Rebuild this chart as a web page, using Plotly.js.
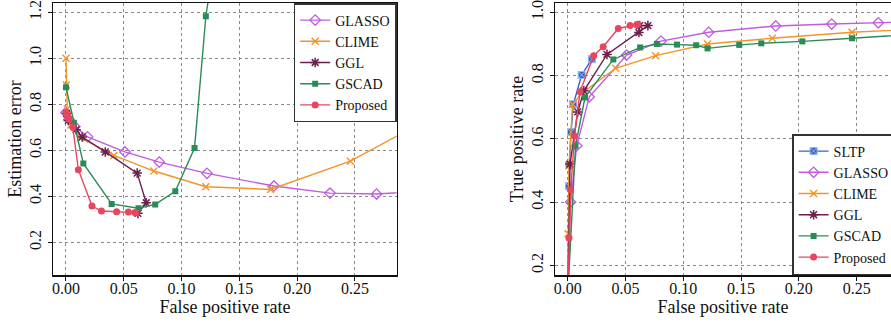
<!DOCTYPE html>
<html>
<head>
<meta charset="utf-8">
<script src="https://cdn.plot.ly/plotly-3.0.1.min.js"></script>
<style>html,body{margin:0;padding:0;background:#fff}#chart{width:891px;height:323px}</style>
</head>
<body>
<div id="chart"></div>
<script>
// ---- data ----
const methods = ["SLTP", "GLASSO", "CLIME", "GGL", "GSCAD", "Proposed"];

const sltpFpr = [0.0, 0.0012, 0.0015, 0.0029, 0.0049, 0.0121, 0.0209];
const sltpTpr = [0.10, 0.45, 0.518, 0.621, 0.709, 0.802, 0.852];

const glassoFpr = [0.0, 0.0025, 0.0078, 0.0187, 0.051, 0.0807, 0.122, 0.180, 0.2284, 0.2687, 0.315];
const glassoTpr = [0.12, 0.40, 0.578, 0.733, 0.865, 0.909, 0.937, 0.957, 0.963, 0.967, 0.972];
const glassoErr = [0.765, 0.735, 0.703, 0.659, 0.593, 0.549, 0.500, 0.445, 0.414, 0.410, 0.425];

const climeFpr = [0.0, 0.0003, 0.0011, 0.0042, 0.0125, 0.0415, 0.0761, 0.121, 0.177, 0.246, 0.32];
const climeTpr = [0.05, 0.30, 0.515, 0.709, 0.745, 0.823, 0.863, 0.900, 0.918, 0.937, 0.950];
const climeErr = [1.0, 0.884, 0.78, 0.71, 0.655, 0.578, 0.510, 0.442, 0.430, 0.553, 0.753];

const gglFpr = [0.0005, 0.002, 0.0087, 0.014, 0.034, 0.0616, 0.0694, 0.0622];
const gglTpr = [0.15, 0.52, 0.685, 0.752, 0.867, 0.936, 0.958, 0.958];
const gglErr = [0.76, 0.73, 0.69, 0.658, 0.593, 0.501, 0.372, 0.326];

const gscadFpr = [0.0, 0.0068, 0.015, 0.0395, 0.0627, 0.0772, 0.0946, 0.1112, 0.121, 0.1484, 0.1675, 0.203, 0.246, 0.30];
const gscadTpr = [0.10, 0.578, 0.731, 0.851, 0.889, 0.900, 0.898, 0.896, 0.886, 0.897, 0.902, 0.908, 0.918, 0.931];
const gscadErr = [0.874, 0.72, 0.543, 0.367, 0.348, 0.365, 0.422, 0.61, 1.183, 2.1, 2.6, 3.3, 4.0, 4.5];

const propFpr = [0.0, 0.0011, 0.0026, 0.0059, 0.0107, 0.0225, 0.0307, 0.0438, 0.054, 0.0597, 0.0606];
const propTpr = [0.10, 0.286, 0.439, 0.609, 0.749, 0.863, 0.891, 0.949, 0.958, 0.961, 0.962];
const propErr = [0.764, 0.75, 0.735, 0.70, 0.516, 0.358, 0.336, 0.333, 0.332, 0.330, 0.329];

const xTickVals = [0, 0.05, 0.10, 0.15, 0.20, 0.25];
const xTickText = ["0.00", "0.05", "0.10", "0.15", "0.20", "0.25"];
const errTickVals = [0.2, 0.4, 0.6, 0.8, 1.0, 1.2];
const errTickText = ["0.2", "0.4", "0.6", "0.8", "1.0", "1.2"];
const tprTickVals = [0.2, 0.4, 0.6, 0.8, 1.0];
const tprTickText = ["0.2", "0.4", "0.6", "0.8", "1.0"];

// ---- styles ----
const style = {
  SLTP:     {color: "#2f62cc", marker: {symbol: "square-x", size: 7, color: "#2f62cc", line: {color: "#9db8f0", width: 1}}},
  GLASSO:   {color: "#c15ce0", marker: {symbol: "diamond-open", size: 8, color: "#c15ce0", line: {width: 1.3}}},
  CLIME:    {color: "#f39428", marker: {symbol: "x-thin-open", size: 7, color: "#f39428", line: {width: 1.4}}},
  GGL:      {color: "#6c1e4f", marker: {symbol: "asterisk-open", size: 8, color: "#6c1e4f", line: {width: 1.5}}},
  GSCAD:    {color: "#2a8a58", marker: {symbol: "square", size: 6, color: "#2a8a58"}},
  Proposed: {color: "#e8455f", marker: {symbol: "circle", size: 7, color: "#e8455f"}}
};

function tr(name, x, y, xa, ya, leg) {
  const s = style[name];
  return {type: "scatter", mode: "lines+markers", name: name, x: x, y: y,
          xaxis: xa, yaxis: ya, legend: leg,
          line: {color: s.color, width: 1.4}, marker: s.marker};
}

const data = [
  tr("GLASSO", glassoFpr, glassoErr, "x", "y", "legend"),
  tr("CLIME", climeFpr, climeErr, "x", "y", "legend"),
  tr("GGL", gglFpr, gglErr, "x", "y", "legend"),
  tr("GSCAD", gscadFpr, gscadErr, "x", "y", "legend"),
  tr("Proposed", propFpr, propErr, "x", "y", "legend"),
  tr("SLTP", sltpFpr, sltpTpr, "x2", "y2", "legend2"),
  tr("GLASSO", glassoFpr, glassoTpr, "x2", "y2", "legend2"),
  tr("CLIME", climeFpr, climeTpr, "x2", "y2", "legend2"),
  tr("GGL", gglFpr, gglTpr, "x2", "y2", "legend2"),
  tr("GSCAD", gscadFpr, gscadTpr, "x2", "y2", "legend2"),
  tr("Proposed", propFpr, propTpr, "x2", "y2", "legend2")
];

const FONT = "Liberation Serif, Times New Roman, serif";
const axBase = {
  showline: true, linecolor: "#111", linewidth: 1.5, mirror: true,
  showgrid: true, gridcolor: "#8a8a8a", griddash: "dot", gridwidth: 1,
  zeroline: false, ticks: "outside", ticklen: 4, tickcolor: "#111", tickwidth: 1,
  ticklabeloverflow: "allow",
  tickfont: {family: FONT, size: 16, color: "#111"}
};

const layout = {
  width: 891, height: 323,
  margin: {l: 0, r: 0, t: 0, b: 0, autoexpand: false},
  paper_bgcolor: "#fff", plot_bgcolor: "#fff",
  font: {family: FONT, color: "#111"},
  xaxis: Object.assign({}, axBase, {domain: [0.0598, 0.4452], range: [-0.011, 0.2861],
    tickvals: xTickVals, ticktext: xTickText, ticklabelstandoff: -6,
    title: {text: "False positive rate", font: {family: FONT, size: 18}, standoff: 0}}),
  yaxis: Object.assign({}, axBase, {domain: [0.1486, 0.9907], range: [0.058, 1.2406],
    tickvals: errTickVals, ticktext: errTickText, tickangle: -90,
    title: {text: "Estimation error", font: {family: FONT, size: 18}, standoff: 1}}),
  xaxis2: Object.assign({}, axBase, {anchor: "y2", domain: [0.6229, 1.0], range: [-0.01096, 0.2797],
    tickvals: xTickVals, ticktext: xTickText, ticklabelstandoff: -6,
    title: {text: "False positive rate", font: {family: FONT, size: 18}, standoff: 0}}),
  yaxis2: Object.assign({}, axBase, {anchor: "x2", domain: [0.1486, 0.9907], range: [0.1694, 1.0295],
    mirror: false,
    tickvals: tprTickVals, ticktext: tprTickText, tickangle: -90,
    title: {text: "True positive rate", font: {family: FONT, size: 18}, standoff: 1}}),
  legend: {x: 0.4452, xanchor: "right", y: 0.9907, yanchor: "top",
    bgcolor: "#fff", bordercolor: "#333", borderwidth: 1.5,
    font: {family: FONT, size: 14, color: "#111"}, tracegroupgap: 0},
  legend2: {x: 0.889, xanchor: "left", y: 0.1486, yanchor: "bottom",
    bgcolor: "#fff", bordercolor: "#333", borderwidth: 1.5,
    font: {family: FONT, size: 14, color: "#111"}, tracegroupgap: 0},
  showlegend: true
};

Plotly.newPlot("chart", data, layout, {staticPlot: true, displayModeBar: false});
</script>
</body>
</html>
